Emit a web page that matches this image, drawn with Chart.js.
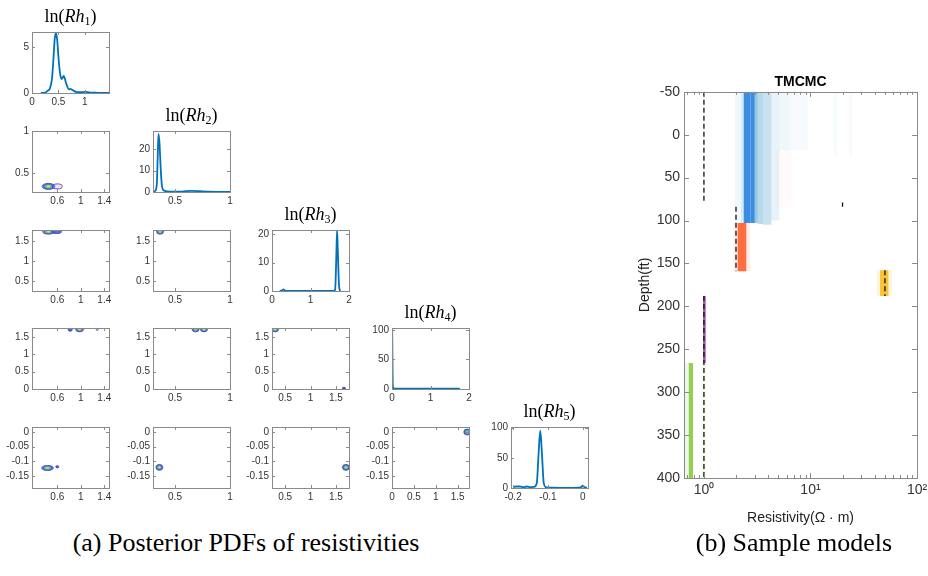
<!DOCTYPE html>
<html>
<head>
<meta charset="utf-8">
<script src="https://cdn.jsdelivr.net/npm/chart.js@4"></script>
<style>
  body { margin: 0; width: 928px; height: 576px; position: relative; overflow: hidden; background: #fff; font-family: "Liberation Sans", Arial, sans-serif; }
  canvas.pane { position: absolute; }
  .ttl { position: absolute; height: 20px; line-height: 20px; font-family: "Liberation Serif", serif; font-size: 18px; color: #000; white-space: nowrap; transform: translateX(-50%); }
  .ttl sub { font-size: 12px; vertical-align: -3px; line-height: 0; }
  .cap { position: absolute; height: 30px; line-height: 30px; font-family: "Liberation Serif", serif; font-size: 26px; color: #000; white-space: nowrap; transform: translateX(-50%); }
</style>
</head>
<body>
<script>
// Posterior corner plot of ln(Rh1..Rh5) plus TMCMC sample models vs depth.

// ---- marginal PDFs (diagonal panels) ----
const rh1X   = [0.17, 0.25, 0.3, 0.34, 0.38, 0.41, 0.43, 0.455, 0.48, 0.5, 0.53, 0.56, 0.6, 0.62, 0.65, 0.7, 0.73, 0.76, 0.8, 0.85, 0.95, 1.0, 1.1, 1.25, 1.46];
const rh1Pdf = [0, 0.05, 0.25, 0.5, 1.6, 4.0, 5.8, 6.5, 5.6, 4.0, 2.2, 1.5, 1.85, 1.6, 1.0, 0.4, 0.45, 0.35, 0.2, 0.1, 0.08, 0.12, 0.05, 0.02, 0];
const rh2X   = [0.3, 0.32, 0.335, 0.342, 0.35, 0.36, 0.37, 0.38, 0.395, 0.43, 0.5, 0.55, 0.6, 0.65, 0.7, 0.75, 0.8, 0.9, 1.0];
const rh2Pdf = [0.1, 0.5, 4, 15, 27, 22, 11, 3.5, 0.8, 0.3, 0.2, 0.2, 0.4, 0.5, 0.45, 0.3, 0.2, 0.1, 0.05];
const rh3X   = [0.2, 0.26, 0.3, 0.34, 0.4, 0.8, 1.2, 1.6, 1.64, 1.67, 1.69, 1.71, 1.74, 1.77];
const rh3Pdf = [0, 0.2, 0.6, 0.1, 0, 0, 0, 0, 0.5, 12, 21.5, 14, 2, 0];
const rh4X   = [0, 0.004, 0.01, 0.02, 0.04, 0.1, 0.5, 1.0, 1.5, 1.76];
const rh4Pdf = [0, 102, 60, 8, 1, 0.5, 0.5, 0.5, 0.5, 0.5];
const rh5X   = [-0.2, -0.19, -0.18, -0.17, -0.16, -0.15, -0.14, -0.132, -0.127, -0.122, -0.117, -0.112, -0.105, -0.09, -0.06, -0.03, -0.01, -0.004, 0, 0.004, 0.012];
const rh5Pdf = [1.5, 2.5, 2.5, 1, 2.5, 1.5, 2, 8, 55, 95, 55, 8, 1, 0.4, 0.3, 0.3, 0.5, 1.5, 4, 1.5, 0.5];

// axis limits and ticks of the diagonal panels
const diagXLim   = [[0, 1.46], [0.3, 1], [0, 2], [0, 2], [-0.206, 0.015]];
const diagYLim   = [[0, 6.6], [0, 28.4], [0, 21.5], [0, 103], [0, 101]];
const diagXTicks = [[0, 0.5, 1], [0.5, 1], [0, 1, 2], [0, 1, 2], [-0.2, -0.1, 0]];
const diagYTicks = [[0, 5], [0, 10, 20], [0, 10, 20], [0, 50, 100], [0, 50, 100]];

// off-diagonal panels: limits per column (x) and per row (y)
const colLim   = [[0.17, 1.48], [0.3, 1.0], [0.24, 1.76], [0, 1.76]];
const colTicks = [[0.6, 1, 1.4], [0.5, 1], [0.5, 1, 1.5], [0, 0.5, 1, 1.5]];
const rowLim   = [null, [0.27, 1.0], [0.24, 1.79], [0, 1.76], [-0.19, 0.017]];
const rowTicks = [null, [0.5, 1], [0.5, 1, 1.5], [0, 0.5, 1, 1.5], [-0.15, -0.1, -0.05, 0]];

// joint-density contours: [centre x, centre y, half-spread x, half-spread y, contour levels]
const blobs21 = [[0.45, 0.337, 0.11, 0.036, 5], [0.60, 0.337, 0.085, 0.03, 1]];
const blobs31 = [[0.45, 1.745, 0.10, 0.06, 5], [0.59, 1.745, 0.085, 0.045, 2]];
const blobs32 = [[0.364, 1.745, 0.032, 0.06, 5]];
const blobs41 = [[0.82, 1.72, 0.034, 0.055, 2], [0.98, 1.72, 0.068, 0.07, 5], [1.28, 1.72, 0.017, 0.03, 1]];
const blobs42 = [[0.687, 1.72, 0.032, 0.07, 4], [0.763, 1.72, 0.032, 0.07, 5]];
const blobs43 = [[0.30, 1.72, 0.07, 0.07, 5], [1.66, 0.02, 0.03, 0.03, 2]];
const blobs51 = [[0.434, -0.122, 0.10, 0.0085, 5], [0.60, -0.118, 0.025, 0.0035, 2]];
const blobs52 = [[0.358, -0.12, 0.032, 0.01, 5]];
const blobs53 = [[1.70, -0.12, 0.07, 0.01, 5]];
const blobs54 = [[1.72, 0.0, 0.08, 0.01, 4]];

// ---- sample models (right panel) ----
const depthLim   = [-50, 400];
const depthTicks = [-50, 0, 50, 100, 150, 200, 250, 300, 350, 400];
const resLim     = [0.65, 100];
const resMajor   = [1, 10, 100];
const resLabels  = ['10\u2070', '10\u00b9', '10\u00b2'];

// true model (dashed)
const trueRes = [1, 20, 2, 50, 1];
const trueTop = [-50, 79, 84, 158, 188];
const trueBot = [80, 84, 159, 188, 400];

// sampled layers: resistivity span, depth span, layer index, share of samples
const stripLo    = [1.95, 2.22, 2.36, 2.75, 3.0, 3.2, 3.6, 4.3, 5.1, 6.4, 16.5, 23, 4.6, 1.9, 2.07, 2.5, 42, 45, 54, 0.98, 0.65, 0.72, 0.96];
const stripHi    = [2.22, 2.36, 2.75, 3.0, 3.2, 3.6, 4.3, 5.1, 6.4, 9.4, 18, 25, 6.6, 2.07, 2.5, 2.7, 45, 54, 58, 1.04, 0.72, 0.79, 1.05];
const stripTop   = [-50, -50, -50, -50, -50, -50, -50, -50, -50, -50, -50, -50, 18, 103, 103, 103, 158, 158, 158, 188, 266, 266, 266];
const stripBot   = [100, 103, 103, 103, 103, 104, 105, 100, 18, 18, 25, 25, 85, 159, 159, 159, 188, 188, 188, 266, 400, 400, 400];
const stripLayer = [0, 0, 0, 0, 0, 0, 0, 0, 0, 0, 0, 0, 1, 1, 1, 1, 2, 2, 2, 3, 4, 4, 4];
const stripShare = [0.08, 0.22, 1.0, 0.92, 0.62, 0.42, 0.32, 0.14, 0.09, 0.05, 0.04, 0.04, 0.025, 0.12, 1.0, 0.12, 0.15, 1.0, 0.15, 1.0, 0.12, 1.0, 0.1];

// ---------------------------------------------------------------------------
const BOX_W = 77, BOX_H = 61;
const colLeft = [32, 153, 272, 392, 511];
const rowTop  = [32, 131, 230, 328, 427];
const PAD_L = 34, PAD_T = 10, PAD_R = 12, PAD_B = 18;

const lvlScale  = [1, 0.82, 0.64, 0.46, 0.28];
const lvlFill   = ['rgba(120,105,220,0.16)', '#4170de', '#38b4dc', '#7ccb6a', '#f0e03c'];
const lvlStroke = ['#4630a6', '#3a48c0', null, null, null];

const layerRGB = [[60, 140, 225], [255, 110, 65], [248, 195, 55], [165, 85, 180], [145, 208, 80]];
const paleBlue = [105, 178, 212];

// box + inward tick marks on all four sides (MATLAB style)
const frame = {
    id: 'frame',
    afterDatasetsDraw(chart, args, opts) {
        const { ctx, chartArea: a, scales } = chart;
        const len = opts.len || 3;
        ctx.save();
        ctx.strokeStyle = opts.color || '#8f8f8f';
        ctx.lineWidth = 1;
        ctx.beginPath();
        scales.x.ticks.forEach(t => {
            const v = t.value;
            let l = len;
            if (scales.x.type === 'logarithmic') {
                const e = Math.log10(v);
                const s = v / Math.pow(10, Math.floor(e + 1e-9));
                if (Math.abs(s - Math.round(s)) > 1e-6) return;
                l = Math.abs(e - Math.round(e)) < 1e-6 ? len : len * 0.6;
            }
            const px = Math.round(scales.x.getPixelForValue(v)) + 0.5;
            ctx.moveTo(px, a.bottom); ctx.lineTo(px, a.bottom - l);
            ctx.moveTo(px, a.top);    ctx.lineTo(px, a.top + l);
        });
        scales.y.ticks.forEach(t => {
            const py = Math.round(scales.y.getPixelForValue(t.value)) + 0.5;
            ctx.moveTo(a.left, py);  ctx.lineTo(a.left + len, py);
            ctx.moveTo(a.right, py); ctx.lineTo(a.right - len, py);
        });
        ctx.stroke();
        ctx.strokeRect(Math.round(a.left) + 0.5, Math.round(a.top) + 0.5,
                       Math.round(a.right - a.left), Math.round(a.bottom - a.top));
        ctx.restore();
    }
};

// nested ellipses standing in for the contour levels
const contours = {
    id: 'contours',
    afterDatasetsDraw(chart, args, opts) {
        if (!opts.blobs) return;
        const { ctx, chartArea: a, scales: { x, y } } = chart;
        ctx.save();
        ctx.beginPath();
        ctx.rect(a.left, a.top, a.right - a.left, a.bottom - a.top);
        ctx.clip();
        opts.blobs.forEach(([cx, cy, hx, hy, n]) => {
            const px = x.getPixelForValue(cx), py = y.getPixelForValue(cy);
            const rx = Math.abs(x.getPixelForValue(cx + hx) - px);
            const ry = Math.abs(y.getPixelForValue(cy + hy) - py);
            for (let k = 0; k < n; k++) {
                ctx.beginPath();
                ctx.ellipse(px, py, Math.max(rx * lvlScale[k], 0.6), Math.max(ry * lvlScale[k], 0.6), 0, 0, Math.PI * 2);
                ctx.fillStyle = lvlFill[k];
                ctx.fill();
                if (lvlStroke[k]) { ctx.strokeStyle = lvlStroke[k]; ctx.lineWidth = 0.8; ctx.stroke(); }
            }
        });
        ctx.restore();
    }
};

const fmt = v => String(+v.toFixed(3));

function axis(which, lim, ticks, size) {
    return {
        type: 'linear', min: lim[0], max: lim[1],
        grid: { display: false, drawTicks: false },
        border: { display: false },
        afterBuildTicks: s => { s.ticks = ticks.map(v => ({ value: v })); },
        afterFit: s => { if (which === 'x') s.height = size; else s.width = size; },
        ticks: {
            font: { size: 10, family: 'Liberation Sans' }, color: '#333',
            padding: 3, maxRotation: 0, autoSkip: false, callback: fmt
        }
    };
}

function panel(bx, by, cfg) {
    const cv = document.createElement('canvas');
    cv.className = 'pane';
    cv.width = PAD_L + BOX_W + PAD_R;
    cv.height = PAD_T + BOX_H + PAD_B;
    cv.style.left = (bx - PAD_L) + 'px';
    cv.style.top = (by - PAD_T) + 'px';
    document.body.appendChild(cv);
    new Chart(cv, {
        type: 'line',
        data: { datasets: cfg.datasets || [] },
        options: {
            responsive: false, animation: false, devicePixelRatio: 1,
            layout: { padding: { top: PAD_T, right: PAD_R, left: 0, bottom: 0 } },
            plugins: {
                legend: { display: false }, tooltip: { enabled: false },
                contours: { blobs: cfg.blobs }, frame: { len: 3, color: '#8a8a8a' }
            },
            scales: {
                x: axis('x', cfg.xl, cfg.xt, PAD_B),
                y: axis('y', cfg.yl, cfg.yt, PAD_L)
            }
        },
        plugins: [contours, frame]
    });
}

function addText(cls, html, cx, top) {
    const d = document.createElement('div');
    d.className = cls;
    d.innerHTML = html;
    d.style.left = cx + 'px';
    d.style.top = top + 'px';
    document.body.appendChild(d);
}

// diagonal PDFs
const pdfX = [rh1X, rh2X, rh3X, rh4X, rh5X];
const pdfY = [rh1Pdf, rh2Pdf, rh3Pdf, rh4Pdf, rh5Pdf];
pdfX.forEach((xs, i) => {
    panel(colLeft[i], rowTop[i], {
        xl: diagXLim[i], yl: diagYLim[i], xt: diagXTicks[i], yt: diagYTicks[i],
        datasets: [{
            data: xs.map((x, k) => ({ x, y: pdfY[i][k] })),
            borderColor: '#0072BD', borderWidth: 1.8, pointRadius: 0,
            cubicInterpolationMode: 'monotone', fill: false
        }]
    });
    addText('ttl', 'ln(<i>Rh</i><sub>' + (i + 1) + '</sub>)', colLeft[i] + BOX_W / 2, rowTop[i] - 26);
});

// lower-triangle joint densities
const blobGrid = {
    '1,0': blobs21,
    '2,0': blobs31, '2,1': blobs32,
    '3,0': blobs41, '3,1': blobs42, '3,2': blobs43,
    '4,0': blobs51, '4,1': blobs52, '4,2': blobs53, '4,3': blobs54
};
for (let r = 1; r < 5; r++) {
    for (let c = 0; c < r; c++) {
        panel(colLeft[c], rowTop[r], {
            xl: colLim[c], yl: rowLim[r], xt: colTicks[c], yt: rowTicks[r],
            blobs: blobGrid[r + ',' + c]
        });
    }
}

// ---- right panel: sample models ----
function stripColor(i) {
    const w = stripShare[i];
    const L = stripLayer[i];
    const rgb = (L === 0 && w < 0.8) ? paleBlue : layerRGB[L];
    const alpha = w >= 0.95 ? 1 : Math.min(1, w * 1.15);
    return `rgba(${rgb[0]},${rgb[1]},${rgb[2]},${alpha})`;
}

const stripSets = stripLo.map((lo, i) => ({
    data: [
        { x: lo, y: stripTop[i] }, { x: stripHi[i], y: stripTop[i] },
        { x: stripHi[i], y: stripBot[i] }, { x: lo, y: stripBot[i] }
    ],
    fill: 'shape', backgroundColor: stripColor(i),
    borderColor: 'rgba(0,0,0,0)', borderWidth: 0, pointRadius: 0, order: 1
}));

const trueSets = trueRes.map((r, i) => ({
    data: [{ x: r, y: trueTop[i] }, { x: r, y: trueBot[i] }],
    borderColor: '#111', borderWidth: 1.3, borderDash: [5, 3],
    pointRadius: 0, fill: false, order: 0
}));

(function sampleModels() {
    const cv = document.createElement('canvas');
    cv.className = 'pane';
    cv.width = 64 + 233 + 15;
    cv.height = 480;
    cv.style.left = '620px';
    cv.style.top = '60px';
    document.body.appendChild(cv);
    new Chart(cv, {
        type: 'line',
        data: { datasets: [...trueSets, ...stripSets] },
        options: {
            responsive: false, animation: false, devicePixelRatio: 1,
            layout: { padding: { top: 0, right: 15, left: 0, bottom: 0 } },
            plugins: {
                legend: { display: false }, tooltip: { enabled: false },
                title: {
                    display: true, text: 'TMCMC', fullSize: false, color: '#000',
                    font: { size: 14, weight: 'bold', family: 'Liberation Sans' },
                    padding: { top: 14, bottom: 1 }
                },
                frame: { len: 5, color: '#8a8a8a' }
            },
            scales: {
                x: {
                    type: 'logarithmic', min: resLim[0], max: resLim[1],
                    grid: { display: false, drawTicks: false }, border: { display: false },
                    afterFit: s => { s.height = 62; },
                    ticks: {
                        font: { size: 14, family: 'Liberation Sans' }, color: '#333',
                        padding: 4, maxRotation: 0, autoSkip: false,
                        callback: v => {
                            const k = resMajor.findIndex(m => Math.abs(m - v) < 1e-6 * m);
                            return k >= 0 ? resLabels[k] : '';
                        }
                    },
                    title: {
                        display: true, text: 'Resistivity(\u03a9 \u00b7 m)', color: '#222',
                        font: { size: 14, family: 'Liberation Sans' }, padding: { top: 0, bottom: 13 }
                    }
                },
                y: {
                    type: 'linear', reverse: true, min: depthLim[0], max: depthLim[1],
                    grid: { display: false, drawTicks: false }, border: { display: false },
                    afterBuildTicks: s => { s.ticks = depthTicks.map(v => ({ value: v })); },
                    afterFit: s => { s.width = 64; },
                    ticks: { font: { size: 14, family: 'Liberation Sans' }, color: '#333', padding: 4 },
                    title: {
                        display: true, text: 'Depth(ft)', color: '#222',
                        font: { size: 14, family: 'Liberation Sans' }, padding: { top: 17, bottom: 0 }
                    }
                }
            }
        },
        plugins: [frame]
    });
})();

addText('cap', '(a) Posterior PDFs of resistivities', 246, 528);
addText('cap', '(b) Sample models', 794, 528);
</script>
</body>
</html>
